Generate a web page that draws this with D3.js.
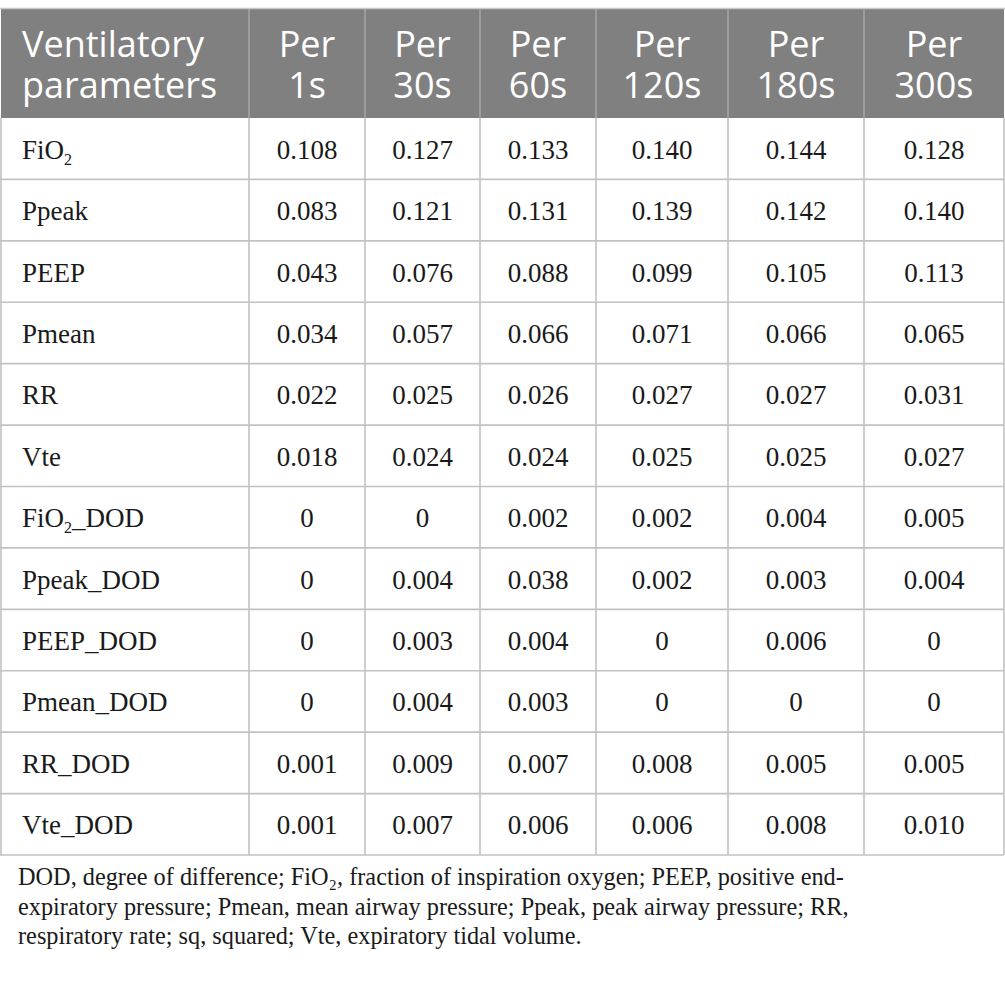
<!DOCTYPE html>
<html><head><meta charset="utf-8">
<script src="https://cdn.jsdelivr.net/npm/d3@7"></script>
<style>html,body{margin:0;padding:0;background:#fff;}</style>
</head><body>
<script>
// ---- data ----
const parameters = ["FiO2","Ppeak","PEEP","Pmean","RR","Vte","FiO2_DOD","Ppeak_DOD","PEEP_DOD","Pmean_DOD","RR_DOD","Vte_DOD"];
const periods = ["1s","30s","60s","120s","180s","300s"];
const per1s   = [0.108,0.083,0.043,0.034,0.022,0.018,0,0,0,0,0.001,0.001];
const per30s  = [0.127,0.121,0.076,0.057,0.025,0.024,0,0.004,0.003,0.004,0.009,0.007];
const per60s  = [0.133,0.131,0.088,0.066,0.026,0.024,0.002,0.038,0.004,0.003,0.007,0.006];
const per120s = [0.140,0.139,0.099,0.071,0.027,0.025,0.002,0.002,0,0,0.008,0.006];
const per180s = [0.144,0.142,0.105,0.066,0.027,0.025,0.004,0.003,0.006,0,0.005,0.008];
const per300s = [0.128,0.140,0.113,0.065,0.031,0.027,0.005,0.004,0,0,0.005,0.010];
const headerFirst = ["Ventilatory","parameters"];
const footnote = [
  "DOD, degree of difference; FiO₂, fraction of inspiration oxygen; PEEP, positive end-",
  "expiratory pressure; Pmean, mean airway pressure; Ppeak, peak airway pressure; RR,",
  "respiratory rate; sq, squared; Vte, expiratory tidal volume."
];
const seriesCols = [per1s,per30s,per60s,per120s,per180s,per300s];

// ---- layout ----
const W = 1005, H = 986;
const colEdges = [1,249,365,480,596,728,864,1004];
const tableTop = 9, headerBottom = 118, tableBottom = 855;

const svg = d3.select("body").append("svg").attr("width",W).attr("height",H);

const y = d3.scaleBand().domain(d3.range(parameters.length)).range([headerBottom, tableBottom]);
const fmt = v => v === 0 ? "0" : d3.format(".3f")(v);

// header background
svg.append("rect").attr("x",colEdges[0]).attr("y",tableTop).attr("width",colEdges[7]-colEdges[0]).attr("height",headerBottom-tableTop).attr("fill","#808080");
// top border
svg.append("line").attr("x1",0).attr("x2",W).attr("y1",tableTop-0.5).attr("y2",tableTop-0.5).attr("stroke","#c8c8c8").attr("stroke-width",1.5);

// header column separators
for (let i=1;i<colEdges.length-1;i++){
  svg.append("line").attr("x1",colEdges[i]).attr("x2",colEdges[i]).attr("y1",tableTop).attr("y2",headerBottom).attr("stroke","#a6a6a6").attr("stroke-width",1.5);
}

// body grid
const grid = svg.append("g").attr("stroke","#c2c2c2").attr("stroke-width",1.6);
parameters.forEach((p,i)=>{
  grid.append("line").attr("x1",colEdges[0]-1).attr("x2",colEdges[7]).attr("y1",y(i)+y.bandwidth()).attr("y2",y(i)+y.bandwidth());
});
colEdges.forEach(x=>{
  grid.append("line").attr("x1",x).attr("x2",x).attr("y1",headerBottom).attr("y2",tableBottom);
});

// header text (two-line cells as single text elements)
const hdr = svg.append("g").attr("fill","#fff").style("font-family","'Open Sans', 'Noto Sans', sans-serif").style("font-size","36px");
const h0 = hdr.append("text").attr("y",57);
headerFirst.forEach((t,k)=>{
  h0.append("tspan").attr("x",22).attr("dy",k===0?0:41).text(t);
});
periods.forEach((p,j)=>{
  const cx = (colEdges[j+1]+colEdges[j+2])/2;
  const t = hdr.append("text").attr("y",57).attr("text-anchor","middle");
  t.append("tspan").attr("x",cx).attr("dy",0).text("Per");
  t.append("tspan").attr("x",cx).attr("dy",41).text(p);
});

// body text
const body = svg.append("g").attr("fill","#1a1a1a").style("font-family","'Liberation Serif', 'Times New Roman', serif").style("font-size","27px");
parameters.forEach((p,i)=>{
  const by = y(i)+y.bandwidth()/2+10;
  const t = body.append("text").attr("x",22).attr("y",by);
  const m = p.match(/^(.*?O)2(.*)$/);
  if (m){
    t.append("tspan").text(m[1]);
    t.append("tspan").attr("dy",6).style("font-size","16px").text("2");
    t.append("tspan").attr("dy",-6).text(m[2]);
  } else t.text(p);
  seriesCols.forEach((col,j)=>{
    const cx = (colEdges[j+1]+colEdges[j+2])/2;
    body.append("text").attr("x",cx).attr("y",by).attr("text-anchor","middle").text(fmt(col[i]));
  });
});

// footnote
const fn = svg.append("g").attr("fill","#1a1a1a").style("font-family","'Liberation Serif', 'Times New Roman', serif").style("font-size","24.3px");
footnote.forEach((line,k)=>{
  fn.append("text").attr("x",18).attr("y",885+k*29.5).text(line);
});
</script>
</body></html>
